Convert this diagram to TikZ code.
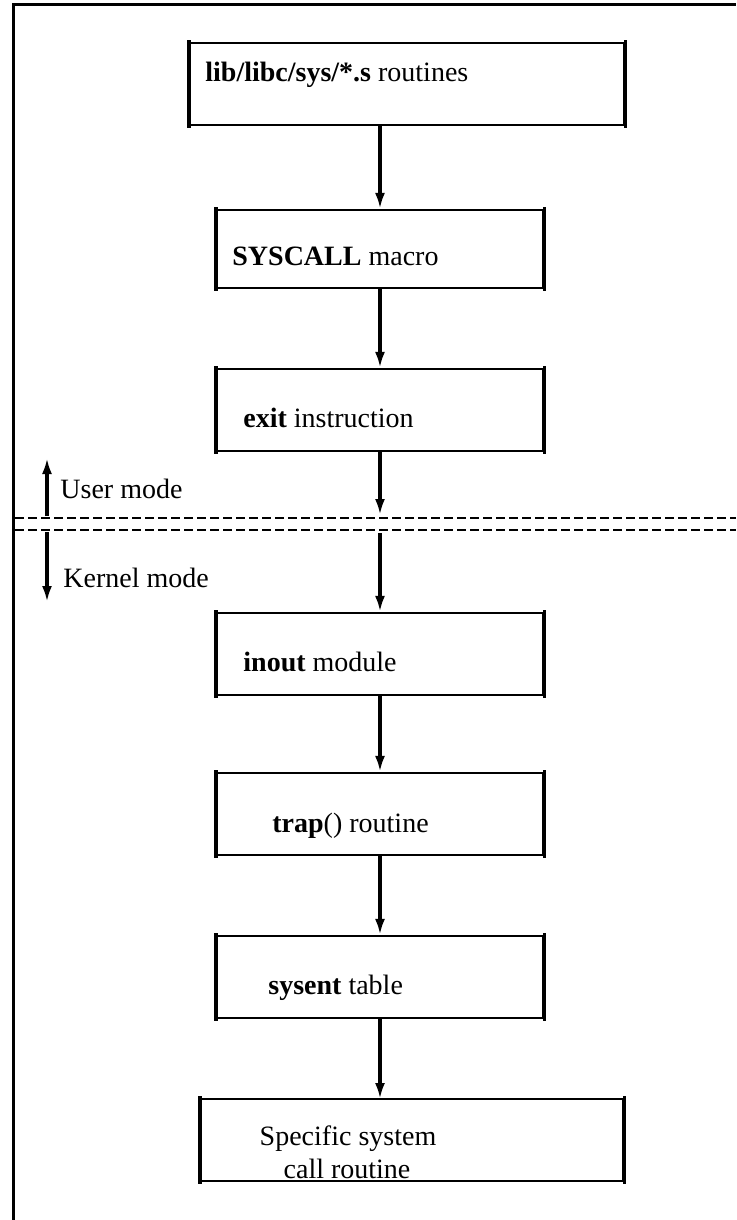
\documentclass[tikz,border=0pt]{standalone}
\usepackage{fontspec}
\setmainfont{Liberation Serif}
\usetikzlibrary{arrows.meta}
\begin{document}
\begin{tikzpicture}[x=0.5pt,y=-0.5pt,
  frame/.style={line width=1.5pt},
  box/.style={draw,line width=1.1pt,rectangle,inner sep=0pt},
  vert/.style={line width=1.6pt},
  lbl/.style={anchor=base west,inner sep=0pt,font=\fontsize{14pt}{16.5pt}\selectfont},
  flow/.style={line width=1.6pt,-{Latex[length=8pt,width=5pt]}},
  sep/.style={line width=1.1pt,dash pattern=on 4.5pt off 2pt}]
\useasboundingbox (0,0) rectangle (736,1220);
% outer frame
\coordinate (fbl) at (13,1220);
\coordinate (ftl) at (13,5);
\coordinate (ftr) at (736,5);
\draw[frame] (fbl) -- (ftl) -- (ftr);
% boxes
\node[box,minimum width=217pt,minimum height=41pt] (b1) at (407,84) {};
\node[box,minimum width=163pt,minimum height=39pt] (b2) at (380,249) {};
\node[box,minimum width=163pt,minimum height=41pt] (b3) at (380,410) {};
\node[box,minimum width=163pt,minimum height=41pt] (b4) at (380,654) {};
\node[box,minimum width=163pt,minimum height=41pt] (b5) at (380,814) {};
\node[box,minimum width=163pt,minimum height=41pt] (b6) at (380,977) {};
\node[box,minimum width=211pt,minimum height=41pt] (b7) at (412,1140) {};
\foreach \b in {b1,b2,b3,b4,b5,b6,b7}{
  \draw[vert] ([yshift=0.8pt]\b.north west) -- ([yshift=-0.8pt]\b.south west);
  \draw[vert] ([yshift=0.8pt]\b.north east) -- ([yshift=-0.8pt]\b.south east);
}
% texts
\node[lbl] (t1) at (205,82) {\textbf{lib/libc/sys/*.s} routines};
\node[lbl] (t2) at (232,265) {\textbf{SYSCALL} macro};
\node[lbl] (t3) at (243,427) {\textbf{exit} instruction};
\node[lbl] (t4) at (243,671) {\textbf{inout} module};
\node[lbl] (t5) at (272,832) {\textbf{trap}() routine};
\node[lbl] (t6) at (268,994) {\textbf{sysent} table};
\node[lbl,anchor=base] (t7a) at (348,1145) {Specific system};
\node[lbl,anchor=base] (t7b) at (347,1178) {call routine};
% separator
\coordinate (d1l) at (15,518); \coordinate (d1r) at (736,518);
\coordinate (d2l) at (15,530); \coordinate (d2r) at (736,530);
\draw[sep] (d1l) -- (d1r);
\draw[sep] (d2l) -- (d2r);
\coordinate (xu) at (380,515);
\coordinate (xk) at (380,533);
\coordinate (a1) at (380,125);
\coordinate (a7) at (380,1099);
% flow arrows
\draw[flow] (a1) -- (b2.north);
\draw[flow] (b2.south) -- (b3.north);
\draw[flow] (b3.south) -- (xu);
\draw[flow] (xk) -- (b4.north);
\draw[flow] (b4.south) -- (b5.north);
\draw[flow] (b5.south) -- (b6.north);
\draw[flow] (b6.south) -- (a7);
% mode arrows
\coordinate (ua) at (47,516);
\coordinate (ub) at (47,458);
\coordinate (ka) at (47,532);
\coordinate (kb) at (47,602);
\draw[flow] (ua) -- (ub);
\draw[flow] (ka) -- (kb);
\node[lbl] (um) at (60,498) {User mode};
\node[lbl] (km) at (63,587) {Kernel mode};
\end{tikzpicture}
\end{document}
